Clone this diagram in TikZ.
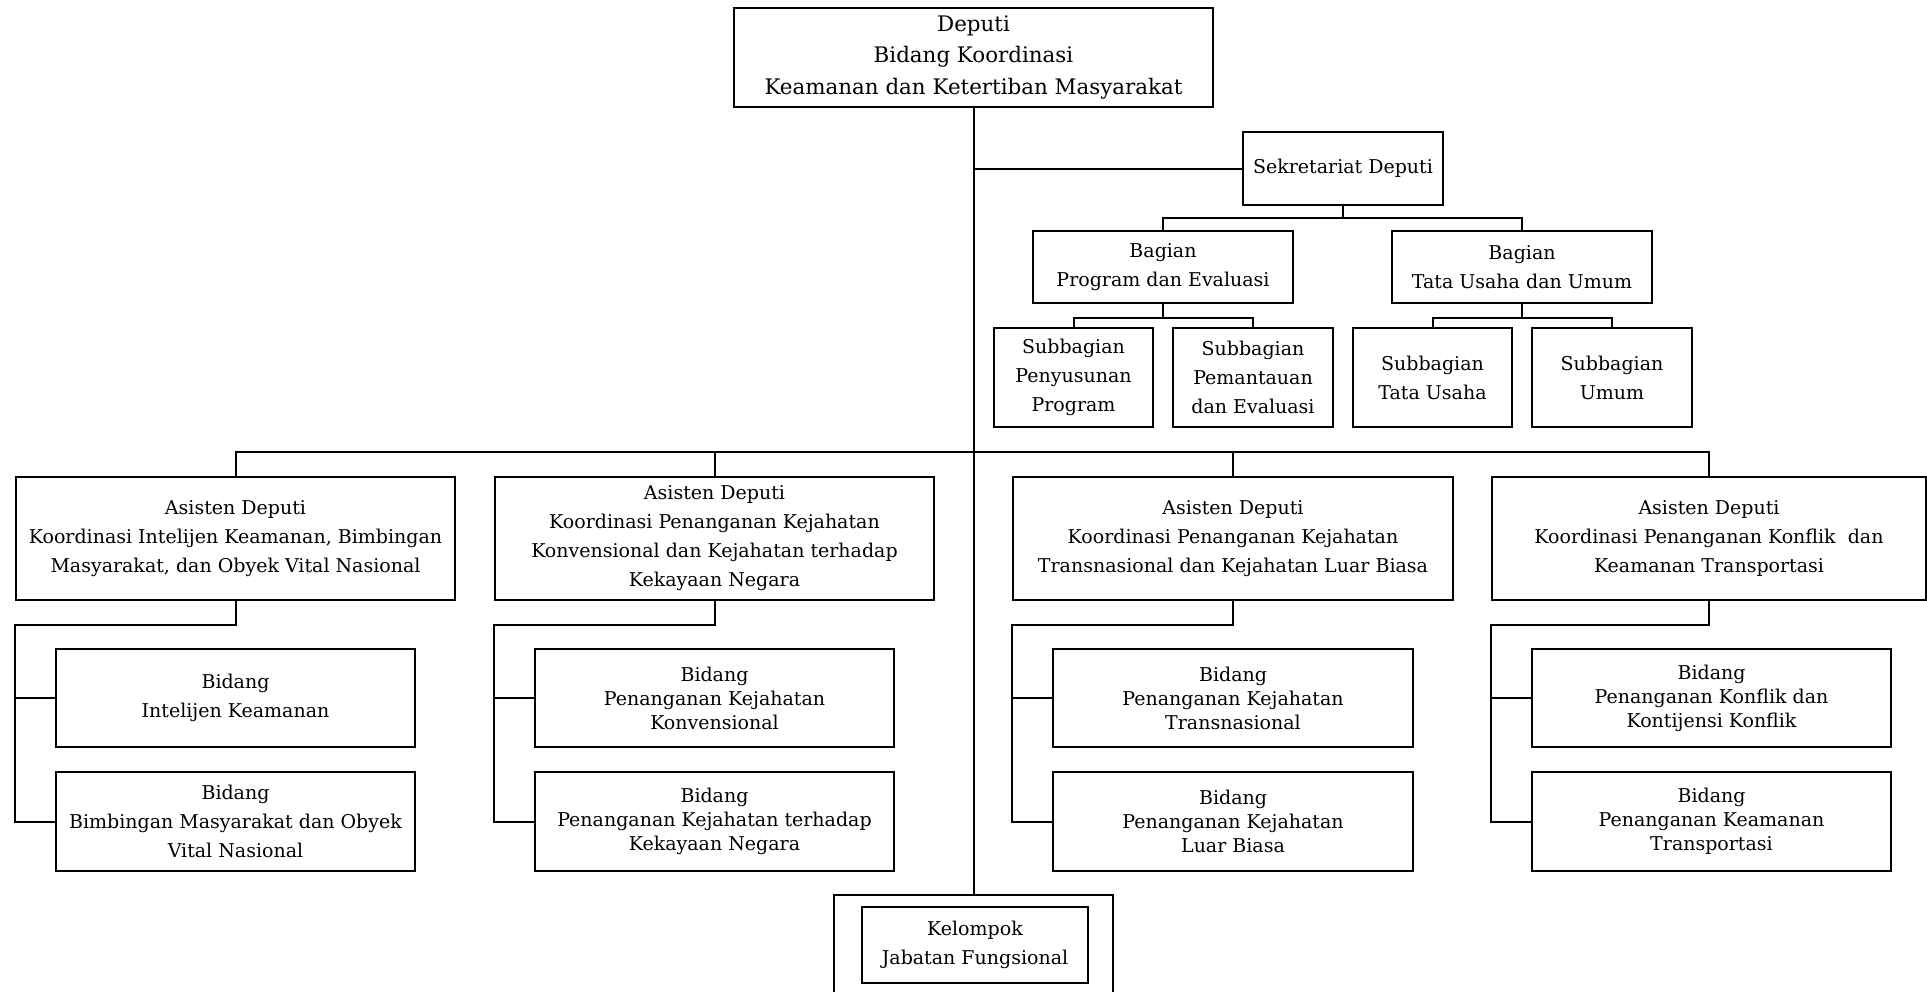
\documentclass[tikz,border=0pt]{standalone}
\usepackage{fontspec}
\setmainfont{DejaVu Serif}
\usepackage{tikz}

\begin{document}
\begin{tikzpicture}[x=0.5pt, y=-0.5pt, line width=1pt,
    unit/.style={draw, align=center, inner sep=0pt, font=\fontsize{9.5}{14.5}\selectfont},
    tight/.style={font=\fontsize{9.5}{12}\selectfont},
    boxsize/.style 2 args={minimum width=#1*0.5pt, minimum height=#2*0.5pt}]
    \useasboundingbox (0, 0) rectangle (1927, 991);
    \clip (0, 0) rectangle (1927, 991);

    % draw deputi and sekretariat
    \node[unit, boxsize={479}{99}, font=\fontsize{10.7}{15.75}\selectfont] (deputi) at (973.5, 57.5) {Deputi\\Bidang Koordinasi\\Keamanan dan Ketertiban Masyarakat};
    \node[unit, boxsize={200}{73}] (sekretariat) at (1343, 168.5) {Sekretariat Deputi};

    \node[unit, boxsize={260}{72}] (bagprog) at (1163, 267) {Bagian\\Program dan Evaluasi};
    \node[unit, boxsize={260}{72}] (bagtu) at (1522, 267) {Bagian\\Tata Usaha dan Umum};

    \node[unit, boxsize={159}{99}] (subsusun) at (1073.5, 377.5) {Subbagian\\Penyusunan\\Program};
    \node[unit, boxsize={160}{99}] (subpantau) at (1253, 377.5) {Subbagian\\Pemantauan\\dan Evaluasi};
    \node[unit, boxsize={159}{99}] (subtu) at (1432.5, 377.5) {Subbagian\\Tata Usaha};
    \node[unit, boxsize={160}{99}] (subumum) at (1612, 377.5) {Subbagian\\Umum};

    % draw asisten deputi
    \node[unit, boxsize={439}{123}] (asdintel) at (235.5, 538.5) {Asisten Deputi\\Koordinasi Intelijen Keamanan, Bimbingan\\Masyarakat, dan Obyek Vital Nasional};
    \node[unit, boxsize={439}{123}] (asdkonv) at (714.5, 538.5) {Asisten Deputi\\Koordinasi Penanganan Kejahatan\\Konvensional dan Kejahatan terhadap\\Kekayaan Negara};
    \node[unit, boxsize={440}{123}] (asdtrans) at (1233, 538.5) {Asisten Deputi\\Koordinasi Penanganan Kejahatan\\Transnasional dan Kejahatan Luar Biasa};
    \node[unit, boxsize={434}{123}] (asdkonflik) at (1709, 538.5) {Asisten Deputi\\Koordinasi Penanganan Konflik\ \ dan\\Keamanan Transportasi};

    % draw bidang
    \node[unit, boxsize={359}{98}] (bidintel) at (235.5, 698) {Bidang\\Intelijen Keamanan};
    \node[unit, boxsize={359}{99}] (bidbimbing) at (235.5, 821.5) {Bidang\\Bimbingan Masyarakat dan Obyek\\Vital Nasional};
    \node[unit, tight, boxsize={359}{98}] (bidkonv) at (714.5, 698) {Bidang\\Penanganan Kejahatan\\Konvensional};
    \node[unit, tight, boxsize={359}{99}] (bidkekayaan) at (714.5, 821.5) {Bidang\\Penanganan Kejahatan terhadap\\Kekayaan Negara};
    \node[unit, tight, boxsize={360}{98}] (bidtrans) at (1233, 698) {Bidang\\Penanganan Kejahatan\\Transnasional};
    \node[unit, tight, boxsize={360}{99}] (bidluar) at (1233, 821.5) {Bidang\\Penanganan Kejahatan\\Luar Biasa};
    \node[unit, tight, boxsize={359}{98}] (bidkonflik) at (1711.5, 698) {Bidang\\Penanganan Konflik dan\\Kontijensi Konflik};
    \node[unit, tight, boxsize={359}{99}] (bidtransport) at (1711.5, 821.5) {Bidang\\Penanganan Keamanan\\Transportasi};

    % draw kelompok jabatan fungsional
    \node[unit, boxsize={279}{110}] (fungsional) at (973.5, 950) {};
    \node[unit, boxsize={226}{76}] (jabatan) at (975, 945) {Kelompok\\Jabatan Fungsional};

    % draw main lines
    \coordinate (bar) at (973.5, 452);
    \draw (deputi.south) -- (fungsional.north);
    \draw (deputi.south |- sekretariat.west) -- (sekretariat.west);
    \draw (asdintel.north) -- (asdintel.north |- bar) -- (asdkonflik.north |- bar) -- (asdkonflik.north);
    \draw (asdkonv.north) -- (asdkonv.north |- bar);
    \draw (asdtrans.north) -- (asdtrans.north |- bar);

    % draw sekretariat lines
    \draw (sekretariat.south) -- ++(0, 12) -| (bagprog.north);
    \draw (sekretariat.south) -- ++(0, 12) -| (bagtu.north);
    \draw (bagprog.south) -- ++(0, 14) -| (subsusun.north);
    \draw (bagprog.south) -- ++(0, 14) -| (subpantau.north);
    \draw (bagtu.south) -- ++(0, 14) -| (subtu.north);
    \draw (bagtu.south) -- ++(0, 14) -| (subumum.north);

    % draw bidang lines
    \draw (asdintel.south) -- ++(0, 24) -| (asdintel.west |- bidbimbing.west) -- (bidbimbing.west);
    \draw (asdintel.west |- bidintel.west) -- (bidintel.west);
    \draw (asdkonv.south) -- ++(0, 24) -| (asdkonv.west |- bidkekayaan.west) -- (bidkekayaan.west);
    \draw (asdkonv.west |- bidkonv.west) -- (bidkonv.west);
    \draw (asdtrans.south) -- ++(0, 24) -| (asdtrans.west |- bidluar.west) -- (bidluar.west);
    \draw (asdtrans.west |- bidtrans.west) -- (bidtrans.west);
    \draw (asdkonflik.south) -- ++(0, 24) -| (asdkonflik.west |- bidtransport.west) -- (bidtransport.west);
    \draw (asdkonflik.west |- bidkonflik.west) -- (bidkonflik.west);
\end{tikzpicture}
\end{document}
